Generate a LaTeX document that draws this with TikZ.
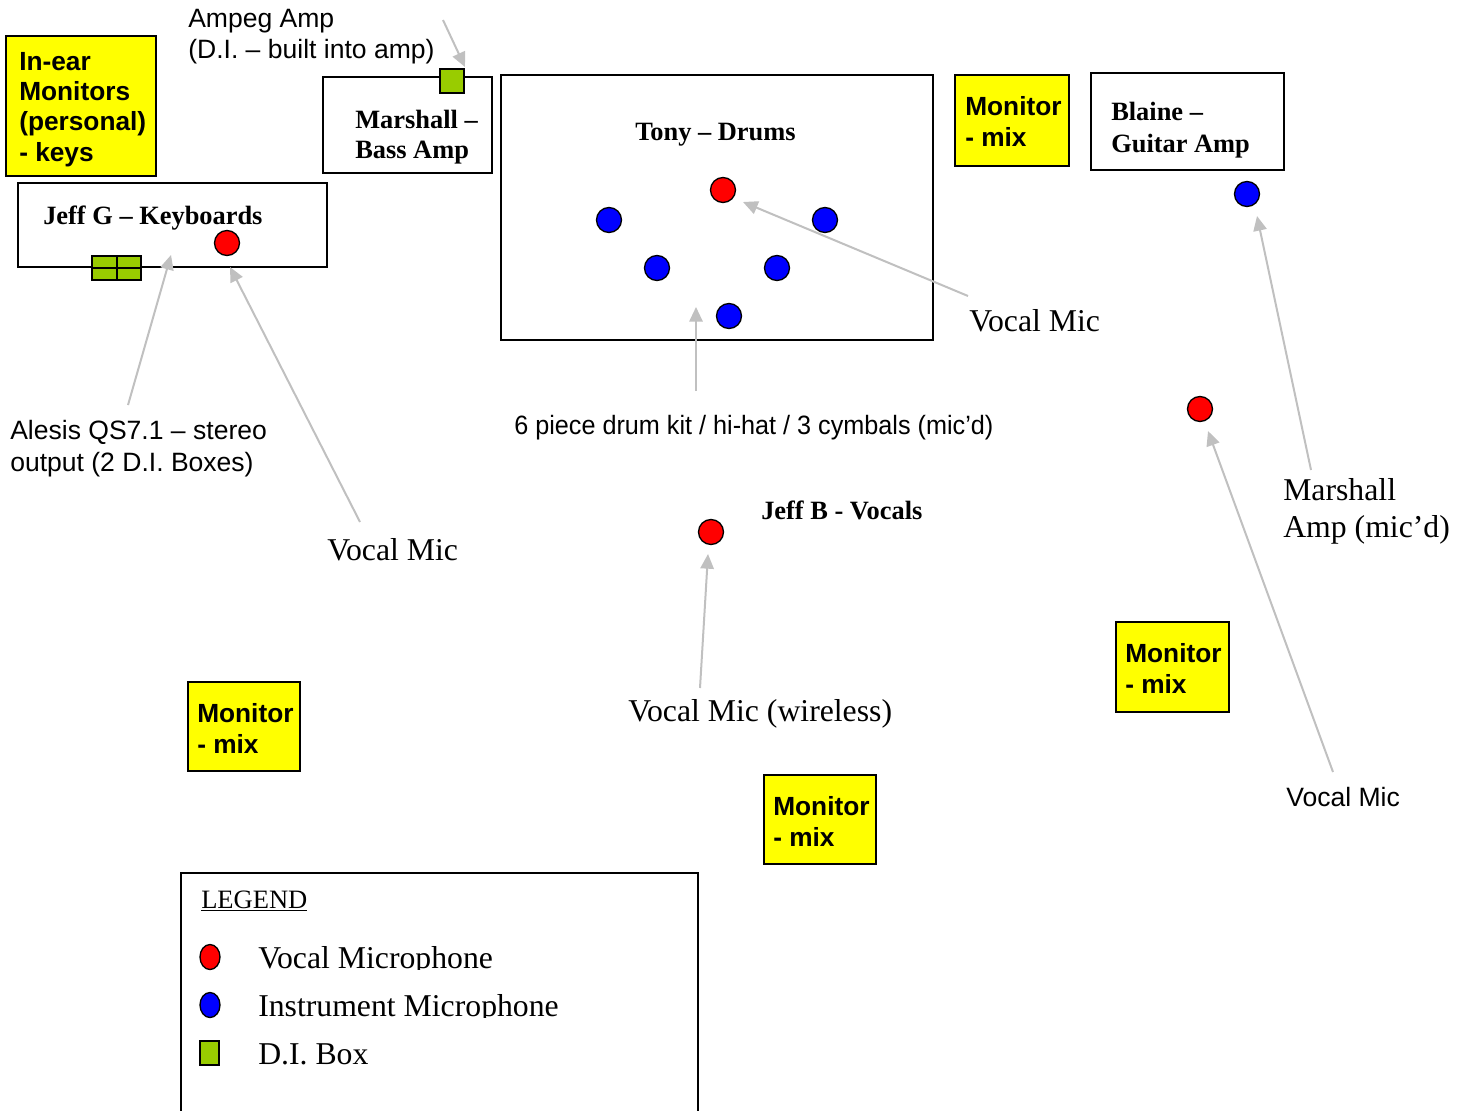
\documentclass[tikz,border=0pt]{standalone}
\usepackage{fontspec}
\setmainfont{Liberation Serif}
\setsansfont{Liberation Sans}
\usetikzlibrary{arrows.meta,fit,shapes.geometric}
\definecolor{monyellow}{RGB}{255,255,0}
\definecolor{digreen}{RGB}{153,204,0}
\definecolor{arrgray}{RGB}{192,192,192}
\begin{document}
\begin{tikzpicture}[x=0.75pt,y=-0.75pt,
  box/.style={draw=black,line width=1.1pt,inner sep=0pt,fill=white},
  monbox/.style={draw=black,line width=1.1pt,inner sep=0pt,fill=monyellow},
  micbase/.style={circle,draw=black,line width=1pt,minimum size=18.75pt,inner sep=0pt},
  vmic/.style={micbase,fill=red},
  imic/.style={micbase,fill=blue},
  dibox/.style={draw=black,line width=1pt,fill=digreen},
  pointer/.style={draw=arrgray,line width=1.5pt,-{Triangle[length=11pt,width=10pt]}},
  lbl/.style={anchor=base west,inner sep=0pt,align=left},
  sanslbl/.style={lbl,font=\sffamily\fontsize{19.9}{22.6}\selectfont},
  sansbold/.style={lbl,font=\sffamily\bfseries\fontsize{19.7}{23}\selectfont},
  serifbold/.style={lbl,font=\bfseries\fontsize{19.8}{22.5}\selectfont},
  seriflbl/.style={lbl,font=\fontsize{23.8}{27.75}\selectfont},
  lgmic/.style={ellipse,draw=black,line width=1pt,minimum width=15pt,minimum height=18.75pt,inner sep=0pt},
]
\useasboundingbox (0,0) rectangle (1466,1110);

% ---------- boxes (multi-line labels are placed by their last baseline) ----------
\node[monbox,fit={(6,36) (156,176)}] (inear) {};
\node[sansbold,font=\sffamily\bfseries\fontsize{19.7}{22.75}\selectfont] (inearT) at (19,161) {In-ear\\Monitors\\(personal)\\- keys};

\node[box,fit={(323,77) (492,173)}] (bassamp) {};
\node[serifbold] (bassampT) at (355,158) {Marshall –\\Bass Amp};
\node[dibox,fit={(440,69) (464,93)},inner sep=0pt] (bassdi) {};

\node[box,fit={(18,183) (327,267)}] (keys) {};
\node[serifbold] (keysT) at (43,224) {Jeff G – Keyboards};
\node[vmic] (keysmic) at (227,243) {};
\node[dibox,fit={(92,256) (117,280)},inner sep=0pt] (keysdiA) {};
\node[dibox,fit={(117,256) (141,280)},inner sep=0pt] (keysdiB) {};
\draw[line width=1pt] (keysdiA.west) -- (keysdiB.east);

\node[box,fit={(501,75) (933,340)}] (drums) {};
\node[serifbold] (drumsT) at (635,140) {Tony – Drums};
\node[vmic] (drumvmic) at (723,190) {};
\node[imic] (dm1) at (609,220) {};
\node[imic] (dm2) at (825,220) {};
\node[imic] (dm3) at (657,268) {};
\node[imic] (dm4) at (777,268) {};
\node[imic] (dm5) at (729,316) {};

\node[monbox,fit={(955,75) (1069,166)}] (mon1) {};
\node[sansbold] (mon1T) at (965,146) {Monitor\\- mix};

\node[box,fit={(1091,73) (1284,170)}] (guitar) {};
\node[serifbold,font=\bfseries\fontsize{19.8}{24}\selectfont] (guitarT) at (1111,152) {Blaine –\\Guitar Amp};
\node[imic] (guitarmic) at (1247,194) {};

\node[vmic] (blainemic) at (1200,409) {};
\node[vmic] (jeffbmic) at (711,532) {};
\node[serifbold] (jeffbT) at (761,519) {Jeff B - Vocals};

\node[monbox,fit={(188,682) (300,771)}] (mon2) {};
\node[sansbold] (mon2T) at (197,753) {Monitor\\- mix};
\node[monbox,fit={(764,775) (876,864)}] (mon3) {};
\node[sansbold] (mon3T) at (773,846) {Monitor\\- mix};
\node[monbox,fit={(1116,622) (1229,712)}] (mon4) {};
\node[sansbold] (mon4T) at (1125,693) {Monitor\\- mix};

% ---------- labels ----------
\node[sanslbl] (ampegT) at (188,58) {Ampeg Amp\\(D.I. – built into amp)};
\node[sanslbl,font=\sffamily\fontsize{19.9}{23.3}\selectfont] (alesisT) at (10,471) {Alesis QS7.1 – stereo\\output (2 D.I. Boxes)};
\node[seriflbl] (keysvmT) at (327,560) {Vocal Mic};
\node[seriflbl] (drumvmT) at (969,331) {Vocal Mic};
\node[sanslbl] (kitT) at (514,434) {\scalebox{0.95}[1]{6 piece drum kit / hi-hat / 3 cymbals (mic’d)}};
\node[seriflbl] (guitarmT) at (1283,537) {Marshall\\Amp (mic’d)};
\node[seriflbl] (jeffbmT) at (628,721) {Vocal Mic (wireless)};
\node[sanslbl] (blainemT) at (1286,806) {Vocal Mic};

% ---------- pointers ----------
\coordinate (ampegS) at (443,20);   \coordinate (ampegE) at (465,67);
\coordinate (alesisS) at (128,405); \coordinate (alesisE) at (171,255);
\coordinate (keysvmS) at (360,522); \coordinate (keysvmE) at (230,267);
\coordinate (drumvmS) at (968,296); \coordinate (drumvmE) at (743,202);
\coordinate (kitS) at (696,391);    \coordinate (kitE) at (696,307);
\coordinate (guitarmS) at (1311,470); \coordinate (guitarmE) at (1257,216);
\coordinate (blainemS) at (1333,772); \coordinate (blainemE) at (1208,431);
\coordinate (jeffbmS) at (700,688); \coordinate (jeffbmE) at (708,554);
\draw[pointer] (ampegS) -- (ampegE);
\draw[pointer] (alesisS) -- (alesisE);
\draw[pointer] (keysvmS) -- (keysvmE);
\draw[pointer] (drumvmS) -- (drumvmE);
\draw[pointer] (kitS) -- (kitE);
\draw[pointer] (guitarmS) -- (guitarmE);
\draw[pointer] (blainemS) -- (blainemE);
\draw[pointer] (jeffbmS) -- (jeffbmE);

% ---------- legend ----------
\node[box,fill=none,fit={(181,873) (698,1130)}] (legend) {};
\node[lbl,font=\fontsize{19.9}{22}\selectfont] (legendT) at (201,908) {\underline{LEGEND}};
\node[lgmic,fill=red] (lgv) at (210,957) {};
\node[lgmic,fill=blue] (lgi) at (210,1005) {};
\node[dibox,fit={(200,1041) (219,1065)},inner sep=0pt] (lgd) {};
\begin{scope}
\clip (250,930) rectangle (700,969);
\node[seriflbl] (lgvT) at (258,968) {Vocal Microphone};
\end{scope}
\begin{scope}
\clip (250,978) rectangle (700,1017);
\node[seriflbl] (lgiT) at (258,1016) {Instrument Microphone};
\end{scope}
\node[seriflbl] (lgdT) at (258,1064) {D.I. Box};
\end{tikzpicture}
\end{document}
